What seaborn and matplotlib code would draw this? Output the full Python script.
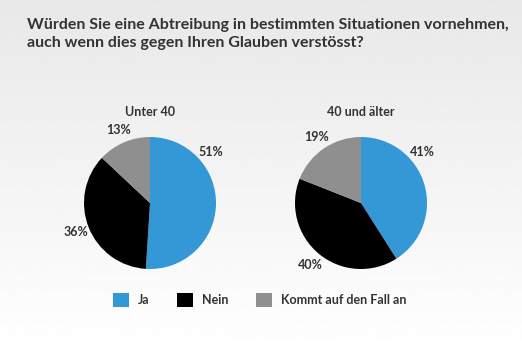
import matplotlib
matplotlib.use("Agg")
import matplotlib.pyplot as plt
from matplotlib.patches import Patch
import numpy as np
import seaborn as sns

TITLE = "Würden Sie eine Abtreibung in bestimmten Situationen vornehmen,\nauch wenn dies gegen Ihren Glauben verstösst?"
CATEGORIES = ["Ja", "Nein", "Kommt auf den Fall an"]
GROUPS = ["Unter 40", "40 und älter"]
UNDER_40 = [51, 36, 13]
OVER_40 = [41, 40, 19]

COLORS = ["#3498d6", "#000000", "#8f8f8f"]
TEXT = "#333333"

sns.set_theme(style="white")
plt.rcParams["font.family"] = ["Lato", "DejaVu Sans"]

W, H = 522, 355
fig = plt.figure(figsize=(W / 100, H / 100), dpi=100)

# vertical gradient background
bg = fig.add_axes([0, 0, 1, 1], zorder=-10)
grad = np.linspace(0.91, 1.0, 256).reshape(-1, 1)
bg.imshow(grad, aspect="auto", cmap="gray", vmin=0, vmax=1, extent=[0, 1, 0, 1], origin="upper")
bg.set_axis_off()

fig.text(27 / W, 1 - 34 / H, TITLE, fontsize=11.5, fontweight="bold", color=TEXT,
         ha="left", va="center", linespacing=1.35)

R_PX = 66
SPAN = 1.45
size_px = 2 * R_PX * SPAN


def draw_pie(cx, cy, values, title):
    ax = fig.add_axes([(cx - size_px / 2) / W, 1 - (cy + size_px / 2) / H,
                       size_px / W, size_px / H])
    ax.pie(values, colors=COLORS, startangle=90, counterclock=False,
           wedgeprops=dict(linewidth=0))
    ax.set_xlim(-SPAN, SPAN)
    ax.set_ylim(-SPAN, SPAN)
    ax.set_aspect("equal")
    ax.set_axis_off()
    # percentage labels outside, first label pulled up toward the top
    start = 0.0
    for i, v in enumerate(values):
        mid = start + v * 3.6 / 2
        if i == 0:
            mid = min(mid, 50)
        start += v * 3.6
        a = np.deg2rad(90 - mid)
        ax.text(1.21 * np.cos(a), 1.21 * np.sin(a), f"{v}%", fontsize=9,
                fontweight="bold", color=TEXT, ha="center", va="center")
    ax.text(0, 1.38, title, fontsize=9, fontweight="bold", color=TEXT,
            ha="center", va="center")


draw_pie(150, 203, UNDER_40, GROUPS[0])
draw_pie(361, 203, OVER_40, GROUPS[1])

handles = [Patch(facecolor=c, edgecolor="none", label=l) for c, l in zip(COLORS, CATEGORIES)]
leg = fig.legend(handles=handles, loc="center", bbox_to_anchor=(0.497, 1 - 300 / H), ncol=3,
                 frameon=False, handlelength=1.3, handleheight=1.3, columnspacing=2.2,
                 handletextpad=0.7, prop=dict(size=9, weight="bold"))
for t in leg.get_texts():
    t.set_color(TEXT)

fig.savefig("out.png", dpi=100)
